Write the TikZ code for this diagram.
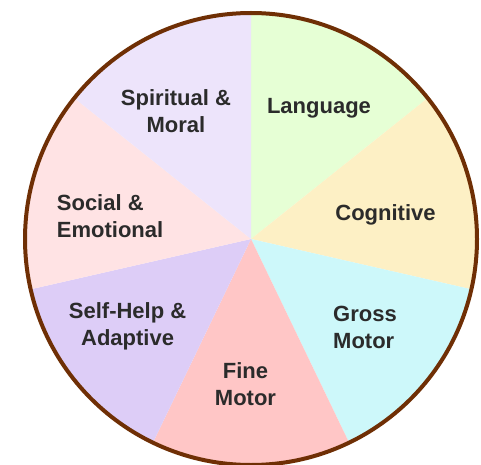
\documentclass[tikz,border=0pt]{standalone}
\usepackage{fontspec}
\setmainfont{Liberation Sans}
\usetikzlibrary{positioning}

\definecolor{borde}{HTML}{6F2F05}
\definecolor{texto}{HTML}{2B2B2B}
\definecolor{lenguaje}{HTML}{E6FFD5}
\definecolor{cognitivo}{HTML}{FDF0C5}
\definecolor{grueso}{HTML}{CDF8FA}
\definecolor{fino}{HTML}{FFC6C6}
\definecolor{autoayuda}{HTML}{DDCDF7}
\definecolor{social}{HTML}{FFE3E4}
\definecolor{espiritual}{HTML}{EDE4FB}

\begin{document}
\begin{tikzpicture}[x=1pt, y=1pt,
  etiqueta/.style={font=\bfseries\fontsize{22}{27}\selectfont, text=texto, align=center, inner sep=0pt}]
\useasboundingbox (0,0) rectangle (481,464);

% sectores
\coordinate (c) at (251,225);
\foreach \col [count=\i] in {lenguaje,cognitivo,grueso,fino,autoayuda,social,espiritual}{
  \pgfmathsetmacro{\a}{90-(\i-1)*360/7}
  \fill[\col] (c) -- ++(\a:226) arc[start angle=\a, end angle=\a-360/7, radius=226] -- cycle;
}
\draw[borde, line width=4] (c) circle[radius=226];

% etiquetas
\node [etiqueta] (leng) at (319,355.5) {Language};
\node [etiqueta] (cogn) at (385.5,249) {Cognitive};
\node [etiqueta, align=left, anchor=west] (grue) at (333,137) {Gross\\Motor};
\node [etiqueta] (fino) at (245.5,80) {Fine\\Motor};
\node [etiqueta] (auto) at (127.6,137.5) {Self-Help \&\\Adaptive};
\node [etiqueta, align=left, anchor=west] (soci) at (56.7,248) {Social \&\\Emotional};
\node [etiqueta] (espi) at (176,353) {Spiritual \&\\Moral};
\end{tikzpicture}
\end{document}
